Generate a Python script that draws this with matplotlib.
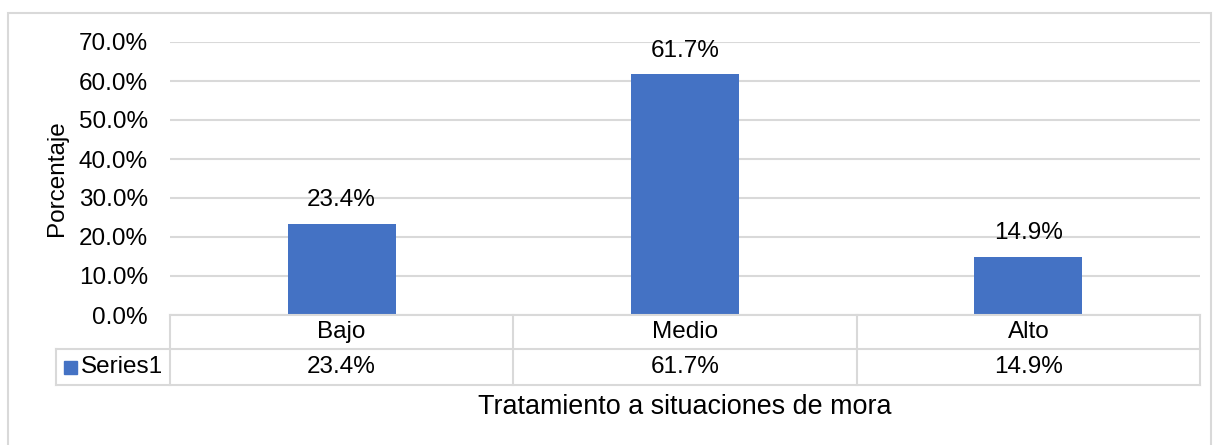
import matplotlib
matplotlib.use("Agg")
import matplotlib.pyplot as plt
from matplotlib.transforms import blended_transform_factory
from matplotlib.patches import Rectangle
from matplotlib.lines import Line2D

categories = ["Bajo", "Medio", "Alto"]
values = [0.234, 0.617, 0.149]
series_name = "Series1"
yticks = [0.0, 0.1, 0.2, 0.3, 0.4, 0.5, 0.6, 0.7]
xlabel = "Tratamiento a situaciones de mora"
ylabel = "Porcentaje"

W, H = 1219, 445
plt.rcParams['font.family'] = ['Liberation Sans', 'DejaVu Sans']
FS = 17.5
BAR = "#4472C4"
GRID = "#D9D9D9"

fig = plt.figure(figsize=(W/100, H/100), dpi=100)

def fx(x): return x / W
def fy(y): return 1 - y / H

# outer border
fig.patches.append(Rectangle((fx(8), fy(460)), fx(1211) - fx(8), fy(13) - fy(460),
                             transform=fig.transFigure, fill=False, edgecolor=GRID, lw=1.5))

ax = fig.add_axes([fx(170), fy(315), fx(1200) - fx(170), fy(42) - fy(315)])
x = list(range(len(categories)))
ax.bar(x, values, width=0.315, color=BAR, zorder=3)
ax.set_xlim(-0.5, len(categories) - 0.5)
ax.set_ylim(0, 0.7)
ax.set_yticks(yticks)
ax.set_yticklabels([f"{v*100:.1f}%" for v in yticks], fontsize=FS)
ax.tick_params(axis='y', length=0, pad=16)
ax.set_xticks([])
for s in ax.spines.values():
    s.set_visible(False)
ax.grid(axis='y', color=GRID, lw=1.5, zorder=0)
ax.set_axisbelow(True)

# y-axis title
fig.text(fx(57), (fy(42) + fy(315)) / 2, ylabel, rotation=90, ha='center', va='center', fontsize=FS)

for xi, v in zip(x, values):
    ax.annotate(f"{v*100:.1f}%", (xi, v), xytext=(0, 17), textcoords='offset points',
                ha='center', va='center', fontsize=FS)

# data table
tr = blended_transform_factory(ax.transData, fig.transFigure)
y0, y1, y2 = fy(315), fy(349), fy(385)
edges = [i - 0.5 for i in range(len(categories) + 1)]
lw = 1.5
fig.add_artist(Line2D([edges[0], edges[-1]], [y0, y0], transform=tr, color=GRID, lw=lw))
for e in edges:
    fig.add_artist(Line2D([e, e], [y0, y2], transform=tr, color=GRID, lw=lw))
fig.add_artist(Line2D([fx(56), fx(1200)], [y1, y1], transform=fig.transFigure, color=GRID, lw=lw))
fig.add_artist(Line2D([fx(56), fx(1200)], [y2, y2], transform=fig.transFigure, color=GRID, lw=lw))
fig.add_artist(Line2D([fx(56), fx(56)], [y1, y2], transform=fig.transFigure, color=GRID, lw=lw))
for xi, c, v in zip(x, categories, values):
    fig.text(xi, (y0 + y1) / 2, c, transform=tr, ha='center', va='center', fontsize=FS)
    fig.text(xi, (y1 + y2) / 2, f"{v*100:.1f}%", transform=tr, ha='center', va='center', fontsize=FS)
fig.patches.append(Rectangle((fx(64), fy(374)), fx(77) - fx(64), fy(361) - fy(374),
                             transform=fig.transFigure, color=BAR))
fig.text(fx(81), (y1 + y2) / 2, series_name, ha='left', va='center', fontsize=FS)

fig.text((fx(170) + fx(1200)) / 2, fy(407), xlabel, ha='center', va='center', fontsize=19.4)

fig.savefig("out.png", dpi=100)
